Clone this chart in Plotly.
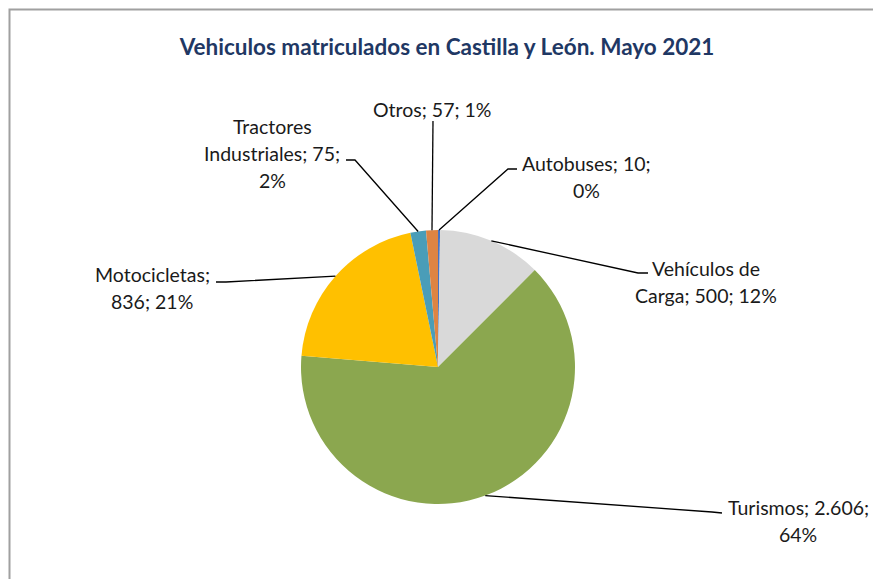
import math
import plotly.graph_objects as go

# datos del grafico
categorias = ["Autobuses", "Vehículos de Carga", "Turismos", "Motocicletas",
              "Tractores Industriales", "Otros"]
valores = [10, 500, 2606, 836, 75, 57]
valores_texto = ["10", "500", "2.606", "836", "75", "57"]
porcentajes = ["0%", "12%", "64%", "21%", "2%", "1%"]
colores = ["#4472C4", "#D9D9D9", "#8BA74F", "#FFC000", "#4A9DB8", "#DE8443"]

# como Excel parte las etiquetas en lineas
lineas_etiqueta = [
    ["Autobuses; 10;", "0%"],
    ["Vehículos de", "Carga; 500; 12%"],
    ["Turismos; 2.606;", "64%"],
    ["Motocicletas;", "836; 21%"],
    ["Tractores", "Industriales; 75;", "2%"],
    ["Otros; 57; 1%"],
]

W, H = 873, 579
cx, cy, r = 438, 367, 137  # pie centre / radius in px

# label placement (px): text centre, elbow of leader line, end of leader line
pos_texto = [(586, 177), (706, 282), (798, 521), (152, 288), (272, 153), (432, 110)]
codo = [(508, 169), (638, 273), (712, 512), (226, 282), (355, 160), (433, 121)]
fin = [(517, 169), (648, 273), (722, 513), (216, 282), (346, 160), (433, 121)]

FONT = "Lato"
LINE_H = 27


def px(x):
    return x / W


def py(y):
    return 1 - y / H


fig = go.Figure()

fig.add_trace(go.Pie(
    labels=categorias,
    values=valores,
    sort=False,
    direction='clockwise',
    rotation=0,
    textinfo='none',
    hoverinfo='label+value+percent',
    marker=dict(colors=colores, line=dict(width=0)),
    domain=dict(x=[px(cx - r), px(cx + r)], y=[py(cy + r), py(cy - r)]),
    showlegend=False,
))

# leader lines from slice mid-angle on the edge
total = sum(valores)
acum = 0
shapes = []
annotations = []
for i, v in enumerate(valores):
    mid = (acum + v / 2) / total
    acum += v
    ang = 2 * math.pi * mid
    ex = cx + r * math.sin(ang)
    ey = cy - r * math.cos(ang)
    path = "M {} {} L {} {} L {} {}".format(
        px(ex), py(ey), px(codo[i][0]), py(codo[i][1]), px(fin[i][0]), py(fin[i][1]))
    shapes.append(dict(type='path', path=path, xref='paper', yref='paper',
                       line=dict(color='black', width=1.3)))

    lineas = lineas_etiqueta[i]
    n = len(lineas)
    for k, t in enumerate(lineas):
        yy = pos_texto[i][1] + (k - (n - 1) / 2) * LINE_H
        annotations.append(dict(
            text=t, x=px(pos_texto[i][0]), y=py(yy), xref='paper', yref='paper',
            xanchor='center', yanchor='middle', showarrow=False,
            font=dict(family=FONT, size=19.5, color='#1a1a1a')))

# chart border (Excel chart area)
shapes.append(dict(type='rect', xref='paper', yref='paper',
                   x0=px(9.5), x1=px(W + 20), y0=py(9.5), y1=py(H + 20),
                   line=dict(color='#A0A0A0', width=2), fillcolor='rgba(0,0,0,0)'))

fig.update_layout(
    width=W, height=H,
    margin=dict(l=0, r=0, t=0, b=0),
    paper_bgcolor='white',
    title=dict(text='<b>Vehiculos matriculados en Castilla y León. Mayo 2021</b>',
               x=px(447), xanchor='center', y=py(47), yanchor='middle',
               font=dict(family=FONT, size=22.5, color='#1F3864')),
    shapes=shapes,
    annotations=annotations,
)

# the page body has a default 8px margin; drop it so the figure fills the window
fig.write_html("out.html", config={'displayModeBar': False},
               post_script="document.body.style.margin='0';")
